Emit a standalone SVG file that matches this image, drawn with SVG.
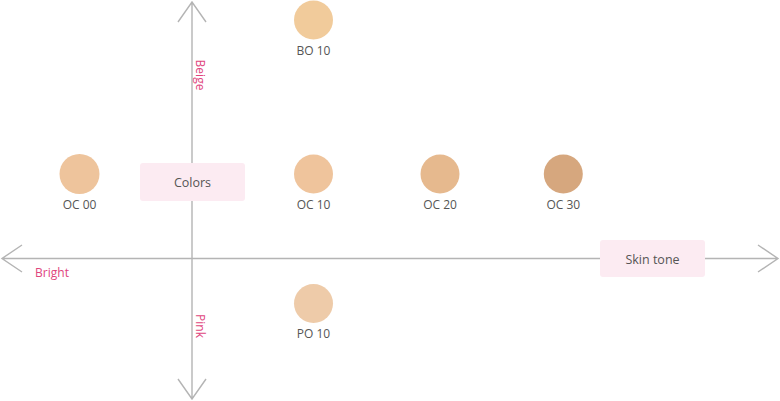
<svg xmlns="http://www.w3.org/2000/svg" width="780" height="401" viewBox="0 0 780 401">
<style>
.ax{stroke:#b4b4b4;stroke-width:1.4;fill:none}
.lbl{font-family:"Open Sans","Noto Sans",sans-serif;font-size:12px;fill:#555;text-anchor:middle}
.pk{font-family:"Open Sans","Noto Sans",sans-serif;font-size:12px;fill:#e0457d;text-anchor:middle}
.box{fill:#fcebf2}
.bt{font-family:"Open Sans","Noto Sans",sans-serif;font-size:12.5px;fill:#555;text-anchor:middle}
</style>
<rect width="780" height="401" fill="#fff"/>
<g id="connectors">
<path class="ax" d="M2,258.5H778M22,245L2,258.5L22,272M758,245L778,258.5L758,272"/>
<path class="ax" d="M192,2V399M178,22L192,2L206,22M178,379L192,399L206,379"/>
</g>
<g id="axis-labels">
<text class="pk" x="52" y="277">Bright</text>
<text class="pk" transform="translate(196,75) rotate(90)" x="0" y="0">Beige</text>
<text class="pk" transform="translate(196,326) rotate(90)" x="0" y="0">Pink</text>
</g>
<g id="colors"><rect class="box" x="140" y="163" width="105" height="38" rx="3"/><text class="bt" x="192.5" y="187">Colors</text></g>
<g id="skintone"><rect class="box" x="600" y="240" width="105" height="37" rx="3"/><text class="bt" x="652.5" y="263.5">Skin tone</text></g>
<g id="bo10"><circle cx="313.5" cy="20" r="19.5" fill="#f1cb9b"/><text class="lbl" x="313.5" y="55">BO 10</text></g>
<g id="oc00"><circle cx="79.5" cy="174" r="20" fill="#eec49c"/><text class="lbl" x="79.5" y="209">OC 00</text></g>
<g id="oc10"><circle cx="313.5" cy="174" r="19.5" fill="#efc49c"/><text class="lbl" x="313.5" y="209">OC 10</text></g>
<g id="oc20"><circle cx="440" cy="174" r="19.5" fill="#e6b98e"/><text class="lbl" x="440" y="209">OC 20</text></g>
<g id="oc30"><circle cx="563.3" cy="174" r="19.5" fill="#d6a77e"/><text class="lbl" x="563.3" y="209">OC 30</text></g>
<g id="po10"><circle cx="313.5" cy="303.5" r="19.5" fill="#eecba9"/><text class="lbl" x="313.5" y="338">PO 10</text></g>
</svg>
